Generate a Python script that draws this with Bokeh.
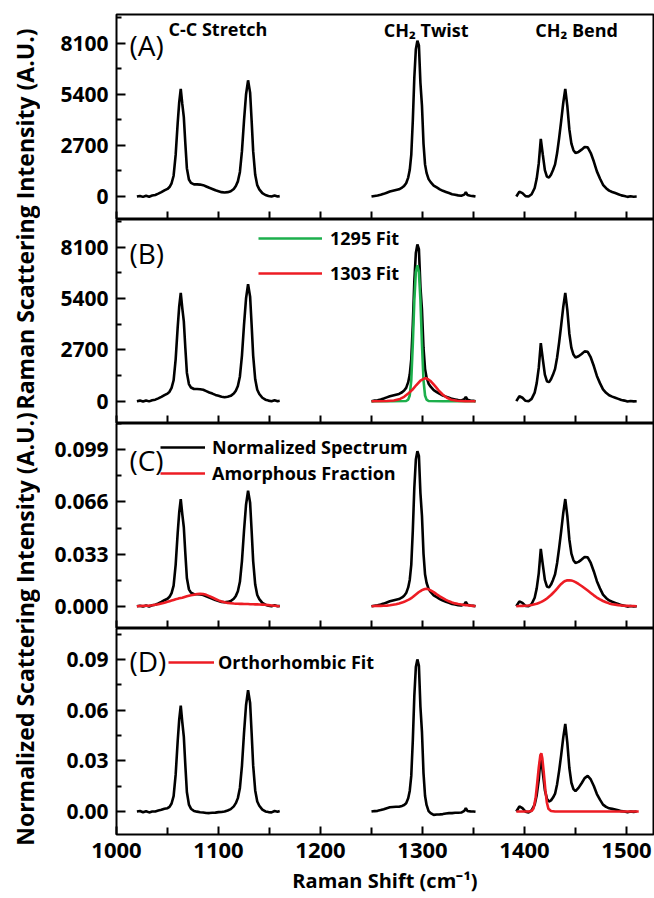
import math

from bokeh.embed import file_html
from bokeh.layouts import column, row
from bokeh.models import (FixedTicker, Label, Legend, LegendItem,
                          NumeralTickFormatter, Range1d)
from bokeh.plotting import figure
from bokeh.resources import INLINE

FONT = "Open Sans"

# ---------------------------------------------------------------------------
# Raman spectrum (raw counts) in three measured windows
# ---------------------------------------------------------------------------
cc_shift = [1020, 1023, 1026, 1029, 1032, 1035, 1038, 1041, 1044, 1047, 1050,
            1052, 1054, 1056, 1058, 1060,
            1061.5, 1063, 1064.5, 1066, 1067.5, 1069,
            1071, 1073,
            1076, 1079, 1082, 1085, 1088, 1091, 1094, 1097, 1100, 1103, 1106, 1109, 1112, 1115,
            1117, 1119, 1121, 1123, 1125, 1127, 1129, 1131,
            1132.5, 1134, 1136, 1138, 1140,
            1143, 1146, 1149, 1152, 1155, 1158, 1160]
cc_counts = [0, 30, -20, 40, -10, 50, 80, 150, 230, 320, 400,
             500, 700, 1100, 2200, 3900,
             5000, 5700, 4900, 4200, 2800, 1500,
             900, 720,
             640, 640, 630, 600, 530, 460, 400, 330, 280, 230, 210, 230, 280, 400,
             550, 800, 1300, 2400, 4000, 5400, 6150, 5500,
             4000, 2400, 1150, 600, 380,
             180, 80, 30, 0, 50, 0, 20]

twist_shift = [1250, 1253, 1256, 1259, 1262, 1265, 1268, 1271, 1274, 1277, 1280,
               1282, 1284, 1286,
               1287.5, 1289, 1290.5, 1292, 1293.5, 1295, 1296.5, 1298, 1299.5, 1301, 1302.5, 1304,
               1306, 1308,
               1311, 1314, 1317, 1320, 1323, 1326, 1329, 1332, 1335, 1338, 1341,
               1342.5, 1344,
               1347, 1350, 1352]
twist_counts = [0, 30, 50, 90, 140, 200, 260, 300, 340, 380, 470,
                560, 700, 1000,
                1400, 2200, 4000, 6300, 7800, 8250, 8000, 6000, 4800, 2800, 1700, 1250,
                920, 760,
                580, 480, 380, 300, 240, 180, 120, 90, 60, 40, 100,
                230, 80,
                40, 20, 0]

bend_shift = [1392, 1395, 1398, 1401, 1404, 1407, 1410,
              1412, 1414, 1416, 1418, 1420, 1422, 1424, 1426, 1428, 1430,
              1432, 1434, 1436, 1438, 1440, 1442, 1444, 1446, 1448, 1450,
              1453, 1456, 1459, 1462, 1465, 1468, 1471, 1474, 1477, 1480,
              1483, 1486, 1489, 1492, 1495, 1498, 1501, 1504, 1507, 1510]
bend_counts = [0, 260, 180, 20, 0, 120, 450,
               950, 1750, 3050, 2200, 1400, 1050, 1000, 1150, 1400, 1700,
               2300, 3100, 4000, 4950, 5700, 4800, 3550, 2800, 2450, 2300,
               2360, 2480, 2620, 2600, 2300, 1850, 1330, 950, 620, 440,
               310, 240, 180, 120, 60, 30, -20, 10, -10, 0]

# amorphous contribution (normalized units) on the same shift grids
cc_amorphous = [0, .0001, .0002, .0003, .0004, .0006, .0009, .0012, .0017, .0022, .0028,
                .0032, .0036, .0040, .0044, .0047,
                .0050, .0052, .0054, .0057, .0060, .0063,
                .0066, .0069,
                .0073, .0077, .0079, .0077, .0072, .0064, .0055, .0046, .0037, .0030, .0025, .0021, .0019, .0017,
                .0016, .0016, .0015, .0015, .0014, .0014, .0014, .0013,
                .0013, .0013, .0012, .0012, .0011,
                .0010, .0009, .0007, .0005, .0003, .0001, 0]
twist_amorphous = [0, .0001, .0002, .0002, .0003, .0004, .0006, .0009, .0012, .0017, .0023,
                   .0028, .0034, .0040,
                   .0045, .0051, .0058, .0066, .0074, .0082, .0090, .0096, .0102, .0106, .0109, .0110,
                   .0107, .0100,
                   .0089, .0075, .0062, .0051, .0040, .0031, .0024, .0018, .0014, .0011, .0008,
                   .0007, .0006,
                   .0004, .0002, .0001]
bend_amorphous = [0, .0001, .0002, .0003, .0005, .0008, .0013,
                  .0016, .0021, .0026, .0033, .0040, .0049, .0060, .0071, .0084, .0097,
                  .0112, .0127, .0141, .0152, .0160, .0164, .0165, .0163, .0159, .0153,
                  .0141, .0128, .0114, .0099, .0084, .0069, .0055, .0043, .0033, .0025,
                  .0018, .0013, .0010, .0007, .0005, .0003, .0002, .0001, .0001, 0]

# integrated intensity used to normalize the raw spectrum
norm_total = 84000.0

# CH2 twist band fits (counts)
fit1295_shift = [1250, 1270, 1284, 1286, 1287.5, 1289, 1290.5, 1292, 1293.5, 1295,
                 1296.5, 1298, 1299.5, 1301, 1302.5, 1304, 1306, 1320, 1352]
fit1295_counts = [0, 0, 10, 80, 300, 1100, 3000, 5300, 6800, 7150,
                  6800, 5300, 3000, 1100, 300, 80, 10, 0, 0]
fit1303_shift = [1250, 1265, 1272, 1278, 1282, 1286, 1290, 1294, 1298, 1302,
                 1304, 1308, 1312, 1316, 1320, 1324, 1328, 1334, 1342, 1352]
fit1303_counts = [0, 10, 40, 120, 230, 400, 600, 850, 1080, 1200,
                  1200, 1060, 820, 560, 340, 180, 80, 20, 0, 0]

# orthorhombic 1416 band fit (normalized units)
ortho_shift = [1392, 1404, 1407, 1409, 1411, 1412.5, 1414, 1415.5, 1416.5, 1417.5,
               1419, 1420.5, 1422, 1423.5, 1426, 1430, 1512]
ortho_value = [0, 0, .0003, .0020, .0085, .0170, .0260, .0330, .0345, .0315,
               .0225, .0125, .0052, .0016, .0003, 0, 0]

# axis ticks
x_ticks = [1000, 1100, 1200, 1300, 1400, 1500]
x_minor = [1050, 1150, 1250, 1350, 1450]
raw_ticks = [0, 2700, 5400, 8100]
raw_minor = [1350, 4050, 6750, 9450]
c_ticks = [0.0, 0.033, 0.066, 0.099]
c_minor = [0.0165, 0.0495, 0.0825, 0.1155]
d_ticks = [0.0, 0.03, 0.06, 0.09]
d_minor = [0.015, 0.045, 0.075, 0.105]

# ---------------------------------------------------------------------------
shifts = [cc_shift, twist_shift, bend_shift]
raw = [cc_counts, twist_counts, bend_counts]
amorphous = [cc_amorphous, twist_amorphous, bend_amorphous]
normalized = [[c / norm_total for c in seg] for seg in raw]
crystalline = [[n - a for n, a in zip(ns, am)] for ns, am in zip(normalized, amorphous)]

BLACK = "#000000"
RED = "#ED1C24"
GREEN = "#1DAF4C"
LW = 2.6

PANEL_W = 614
STRIP_W = 40


def panel(height, top, bottom, y_lo, y_hi, ticks, minor, fmt, x_labels=False):
    p = figure(width=PANEL_W, height=height,
               x_range=Range1d(1000, 1526.5), y_range=Range1d(y_lo, y_hi),
               output_backend="svg", toolbar_location=None,
               min_border_left=116 - STRIP_W, min_border_right=1,
               min_border_top=top, min_border_bottom=bottom)
    p.xgrid.visible = False
    p.ygrid.visible = False
    p.outline_line_color = "black"
    p.outline_line_width = 2
    p.background_fill_color = "white"
    p.border_fill_color = "white"

    for ax in (p.xaxis[0], p.yaxis[0]):
        ax.axis_line_color = None
        ax.major_tick_out = 0
        ax.minor_tick_out = 0
        ax.major_tick_line_width = 2
        ax.minor_tick_line_width = 2

    p.xaxis.major_tick_in = 8
    p.xaxis.minor_tick_in = 7
    if x_labels:
        p.xaxis.ticker = FixedTicker(ticks=x_ticks, minor_ticks=x_minor)
        p.xaxis.major_label_text_font = FONT
        p.xaxis.major_label_text_font_size = "22px"
        p.xaxis.major_label_text_font_style = "bold"
        p.xaxis.major_label_text_color = "black"
        p.xaxis.major_label_standoff = 8
        p.xaxis.formatter = NumeralTickFormatter(format="0")
    else:
        # unlabelled panels: every shift tick is drawn as an inner tick only
        p.xaxis.ticker = FixedTicker(ticks=[], minor_ticks=sorted(x_ticks + x_minor))
        p.xaxis.minor_tick_in = 8
        p.xaxis.major_label_standoff = 0

    p.yaxis.ticker = FixedTicker(ticks=ticks, minor_ticks=minor)
    p.yaxis.major_tick_in = 9
    p.yaxis.minor_tick_in = 5
    p.yaxis.formatter = NumeralTickFormatter(format=fmt)
    p.yaxis.major_label_text_font = FONT
    p.yaxis.major_label_text_font_size = "21px"
    p.yaxis.major_label_text_font_style = "bold"
    p.yaxis.major_label_text_color = "black"
    p.yaxis.major_label_standoff = 8
    return p


def tag(p, x, y, text, size="18px", style="bold"):
    p.add_layout(Label(x=x, y=y, text=text, text_font=FONT, text_font_size=size,
                       text_font_style=style, text_baseline="middle",
                       text_color="black"))


def legend(p, items, x, y, glyph_w, spacing, standoff):
    lg = Legend(items=items, location=(x, y), orientation="vertical",
                glyph_width=glyph_w, glyph_height=20, label_height=20,
                spacing=spacing, label_standoff=standoff, padding=0, margin=0,
                border_line_color=None, background_fill_alpha=0,
                label_text_font=FONT, label_text_font_size="18px",
                label_text_font_style="bold", label_text_color="black")
    p.add_layout(lg, "center")


# (A) raw spectrum
pa = panel(219, 14, 0, -1218, 9635, raw_ticks, raw_minor, "0")
pa.multi_line(shifts, raw, line_color=BLACK, line_width=LW)
tag(pa, 1012.7, 7994, "(A)", size="28px", style="normal")
tag(pa, 1051, 8841, "C-C Stretch")
tag(pa, 1262, 8800, "CH\u2082 Twist")
tag(pa, 1410.5, 8800, "CH\u2082 Bend")

# (B) raw spectrum with CH2 twist fits
pb = panel(204, 0, 0, -1174, 9558, raw_ticks, raw_minor, "0")
pb.multi_line(shifts, raw, line_color=BLACK, line_width=LW)
g1295 = pb.line(fit1295_shift, fit1295_counts, line_color=GREEN, line_width=LW)
r1303 = pb.line(fit1303_shift, fit1303_counts, line_color=RED, line_width=LW)
tag(pb, 1012.7, 7773, "(B)", size="28px", style="normal")
legend(pb, [LegendItem(label="1295 Fit", renderers=[g1295]),
            LegendItem(label="1303 Fit", renderers=[r1303])],
       142, 138, 64, 11, 8)

# (C) normalized spectrum with amorphous fraction
pc = panel(205, 0, 0, -0.0141, 0.1157, c_ticks, c_minor, "0.000")
kc = pc.multi_line(shifts, normalized, line_color=BLACK, line_width=LW)
ac = pc.multi_line(shifts, amorphous, line_color=RED, line_width=LW)
tag(pc, 1012.7, 0.0923, "(C)", size="28px", style="normal")
legend(pc, [LegendItem(label="Normalized Spectrum", renderers=[kc]),
            LegendItem(label="Amorphous Fraction", renderers=[ac])],
       44, 143, 45, 2, 7)

# (D) crystalline spectrum with orthorhombic fit
pd_ = panel(270, 0, 64, -0.0136, 0.1083, d_ticks, d_minor, "0.00", x_labels=True)
pd_.multi_line(shifts, crystalline, line_color=BLACK, line_width=LW)
od = pd_.line(ortho_shift, ortho_value, line_color=RED, line_width=LW)
tag(pd_, 1012.7, 0.0889, "(D)", size="28px", style="normal")
legend(pd_, [LegendItem(label="Orthorhombic Fit", renderers=[od])],
       52, 160, 46, 0, 4)
pd_.xaxis.axis_label = "Raman Shift (cm\u207b\u00b9)"
pd_.xaxis.axis_label_text_font = FONT
pd_.xaxis.axis_label_text_font_size = "20px"
pd_.xaxis.axis_label_text_font_style = "bold"
pd_.xaxis.axis_label_text_color = "black"
pd_.xaxis.axis_label_standoff = 6

# strip holding the shared vertical axis titles
strip = figure(width=STRIP_W, height=898, x_range=Range1d(0, STRIP_W), y_range=Range1d(0, 898),
               x_axis_type=None, y_axis_type=None, output_backend="svg",
               toolbar_location=None, min_border=0)
strip.outline_line_color = None
strip.xgrid.visible = False
strip.ygrid.visible = False
for ytext, label in ((679.5, "Raman Scattering Intensity (A.U.)"),
                     (269.5, "Normalized Scattering Intensity (A.U.)")):
    strip.add_layout(Label(x=24, y=ytext, text=label, angle=math.pi / 2,
                           text_align="center", text_baseline="middle",
                           text_font=FONT, text_font_size="23px",
                           text_font_style="bold", text_color="black"))

layout = row(strip, column(pa, pb, pc, pd_, spacing=0), spacing=0)

with open("out.html", "w") as fh:
    fh.write(file_html(layout, INLINE))
